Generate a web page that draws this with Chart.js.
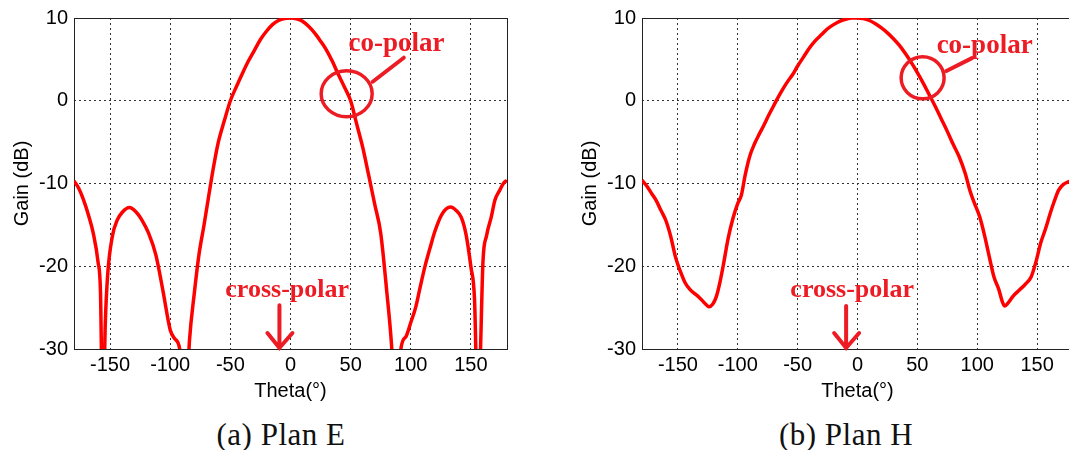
<!DOCTYPE html>
<html>
<head>
<meta charset="utf-8">
<script src="https://cdn.jsdelivr.net/npm/chart.js@4.4.1/dist/chart.umd.min.js"></script>
<style>
  html, body { margin: 0; padding: 0; background: #fff; overflow: hidden; width: 1069px; height: 450px; }
  .box { position: absolute; top: 0; }
  canvas { display: block; }
  .cap { position: absolute; top: 419px; font-family: "Liberation Serif", "Times New Roman", serif; font-size: 31px; line-height: 31px; color: #111; transform: translateX(-50%); white-space: nowrap; letter-spacing: 0.5px; }
</style>
</head>
<body>
<div class="box" style="left:0"><canvas id="chartE" width="520" height="404"></canvas></div>
<div class="box" style="left:568px"><canvas id="chartH" width="507" height="404"></canvas></div>
<div class="cap" style="left:281px">(a) Plan E</div>
<div class="cap" style="left:846px">(b) Plan H</div>
<script>
// --- data ---
const X_TICKS = [-150, -100, -50, 0, 50, 100, 150];
const Y_TICKS = [-30, -20, -10, 0, 10];

// Plan E (gain below -30 dB is clipped by the axes)
const thetaE = [-180, -176, -172, -168, -164, -160, -158, -156, -154, -152, -148, -144, -140, -134, -128, -124, -118, -112, -106, -100,
  -96, -92, -88, -84, -80, -76, -72, -68, -64, -60, -55, -50, -45, -40, -35, -30, -25, -20, -15, -10, -5, 0,
  5, 10, 15, 20, 25, 30, 35, 40, 45, 50, 55, 60, 65, 70, 75, 80, 84, 88, 92, 96, 100, 104, 108, 112, 116, 120,
  126, 133, 138, 142, 146, 150, 153, 156, 158, 160, 163, 167, 170, 174, 177, 180];
const gainE = [-9.7, -10.6, -12.0, -13.8, -16.0, -19.5, -23.0, -40, -27.0, -21.0, -16.3, -14.4, -13.5, -12.9, -13.5, -14.3, -16.0, -18.6, -23.0, -27.7,
  -28.8, -30.1, -40, -29.0, -23.3, -18.5, -15.1, -11.5, -8.0, -5.0, -2.4, 0, 1.7, 3.3, 4.8, 6.1, 7.4, 8.4, 9.2, 9.7, 9.95, 10,
  9.9, 9.6, 9.0, 8.2, 7.2, 6.1, 4.7, 3.1, 1.6, 0, -2.8, -5.6, -9.0, -12.5, -16.0, -23.0, -29.5, -40, -29.8, -28.5, -26.8, -25.0, -22.4, -19.9, -17.8, -15.8,
  -13.7, -12.85, -13.3, -14.1, -16.2, -20.1, -24.0, -40, -30.0, -19.5, -16.3, -14.0, -12.0, -10.8, -10.0, -9.6];

// Plan H
const thetaH = [-180, -176, -172, -168, -164, -160, -156, -152, -148, -144, -140, -136, -132, -128, -124, -121, -118, -115, -112, -108, -104, -100,
  -97, -94, -90, -86, -82, -78, -74, -70, -66, -62, -58, -54, -50, -45, -40, -35, -30, -25, -20, -15, -10, -5, 0,
  5, 10, 15, 20, 25, 30, 35, 40, 45, 50, 55, 60, 65, 70, 75, 80, 85, 90, 94, 98, 102, 106, 110, 114, 118, 121, 123, 126,
  130, 135, 140, 145, 149, 153, 157, 161, 164, 168, 172, 176, 180];
const gainH = [-9.6, -10.3, -11.2, -12.1, -13.3, -14.5, -16.4, -18.9, -20.6, -22.0, -22.8, -23.3, -23.8, -24.4, -24.9, -24.6, -23.7, -22.0, -19.8, -16.6, -14.2, -12.4,
  -11.4, -9.1, -6.7, -5.2, -4.0, -2.9, -1.7, -0.6, 0.5, 1.5, 2.4, 3.2, 4.2, 5.3, 6.4, 7.3, 8.0, 8.7, 9.2, 9.6, 9.85, 10.0, 10.0,
  9.95, 9.7, 9.3, 8.8, 8.2, 7.5, 6.7, 5.7, 4.6, 3.4, 2.1, 0.7, -0.7, -2.2, -3.7, -5.3, -6.8, -8.8, -10.9, -12.5, -14.0, -16.2, -18.8, -21.3, -22.8, -24.3, -24.8, -24.4,
  -23.6, -22.9, -22.2, -21.3, -19.5, -17.2, -15.5, -13.6, -12.3, -10.8, -10.1, -9.8, -9.6];

// annotations, anchored in data units (theta, dB)
const NOTES_E = {
  coText: [48.3, 6.0], circle: [46.7, 0.84], rx: 25.5, ry: 23,
  lead: [[68.3, 2.3], [94.2, 5.2]],
  crossText: [-54.2, -23.7], arrowTop: [-9.2, -24.7]
};
const NOTES_H = {
  coText: [66.1, 5.8], circle: [54.4, 2.77], rx: 21.5, ry: 21,
  lead: [[74.2, 3.6], [95.6, 5.15]],
  crossText: [-56.1, -23.7], arrowTop: [-9.5, -24.8]
};

const SANS = '"Liberation Sans", Arial, sans-serif';
const NOTE_RED = '#ed1c24';

// axes box like the MATLAB frame
const framePlugin = {
  id: 'frame',
  beforeDatasetsDraw(chart) {
    const { ctx, chartArea: a } = chart;
    ctx.save();
    ctx.strokeStyle = '#222';
    ctx.lineWidth = 1;
    ctx.strokeRect(Math.round(a.left) + 0.5, Math.round(a.top) + 0.5, Math.round(a.right - a.left), Math.round(a.bottom - a.top));
    ctx.restore();
  }
};

const notesPlugin = {
  id: 'notes',
  afterDatasetsDraw(chart, args, opts) {
    const n = opts.notes;
    if (!n) return;
    const { ctx } = chart;
    const px = p => [chart.scales.x.getPixelForValue(p[0]), chart.scales.y.getPixelForValue(p[1])];
    ctx.save();
    ctx.strokeStyle = NOTE_RED;
    ctx.fillStyle = NOTE_RED;
    ctx.lineCap = 'round';

    ctx.font = 'bold 27px "Liberation Serif", "Times New Roman", serif';
    ctx.textBaseline = 'alphabetic';
    let [tx, ty] = px(n.coText);
    ctx.fillText('co-polar', tx, ty);

    const [cx, cy] = px(n.circle);
    ctx.lineWidth = 3.5;
    ctx.beginPath();
    ctx.ellipse(cx, cy, n.rx, n.ry, 0, 0, Math.PI * 2);
    ctx.stroke();

    const [l1x, l1y] = px(n.lead[0]);
    const [l2x, l2y] = px(n.lead[1]);
    ctx.lineWidth = 4;
    ctx.beginPath();
    ctx.moveTo(l1x, l1y);
    ctx.lineTo(l2x, l2y);
    ctx.stroke();

    ctx.font = 'bold 26px "Liberation Serif", "Times New Roman", serif';
    [tx, ty] = px(n.crossText);
    ctx.fillText('cross-polar', tx, ty);

    const [ax, ay] = px(n.arrowTop);
    const tip = chart.chartArea.bottom - 1;
    ctx.lineWidth = 4;
    ctx.beginPath();
    ctx.moveTo(ax, ay);
    ctx.lineTo(ax, tip);
    ctx.moveTo(ax - 12, tip - 15);
    ctx.lineTo(ax, tip);
    ctx.lineTo(ax + 13, tip - 15);
    ctx.stroke();
    ctx.restore();
  }
};

function makeChart(id, theta, gain, notes, padRight) {
  return new Chart(document.getElementById(id), {
    type: 'line',
    data: {
      datasets: [{
        data: theta.map((t, i) => ({ x: t, y: gain[i] })),
        borderColor: '#ff0000',
        borderWidth: 3.5,
        pointRadius: 0,
        cubicInterpolationMode: 'monotone',
        fill: false
      }]
    },
    options: {
      responsive: false,
      animation: false,
      events: [],
      layout: { padding: { left: 0, top: 17, right: padRight, bottom: 3 } },
      plugins: {
        legend: { display: false },
        tooltip: { enabled: false },
        notes: { notes }
      },
      scales: {
        x: {
          type: 'linear', min: -180, max: 180,
          afterBuildTicks: s => { s.ticks = X_TICKS.map(v => ({ value: v })); },
          afterFit: s => { s.height = 52; },
          grid: { color: '#333', lineWidth: 1, drawTicks: false },
          border: { display: false, dash: [2, 3] },
          ticks: { font: { family: SANS, size: 20 }, color: '#000', padding: 4, maxRotation: 0 },
          title: { display: true, text: 'Theta(°)', color: '#000', font: { family: SANS, size: 20, lineHeight: 1 }, padding: { top: 0, bottom: 0 } }
        },
        y: {
          type: 'linear', min: -30, max: 10,
          afterBuildTicks: s => { s.ticks = Y_TICKS.map(v => ({ value: v })); },
          afterFit: s => { s.width = 74; },
          grid: { color: '#333', lineWidth: 1, drawTicks: false },
          border: { display: false, dash: [2, 3] },
          ticks: { font: { family: SANS, size: 20 }, color: '#000', padding: 6 },
          title: { display: true, text: 'Gain (dB)', color: '#000', font: { family: SANS, size: 20, lineHeight: 1.2 }, padding: { top: 10, bottom: 0 } }
        }
      }
    },
    plugins: [framePlugin, notesPlugin]
  });
}

makeChart('chartE', thetaE, gainE, NOTES_E, 13);
makeChart('chartH', thetaH, gainH, NOTES_H, 2);
</script>
</body>
</html>
